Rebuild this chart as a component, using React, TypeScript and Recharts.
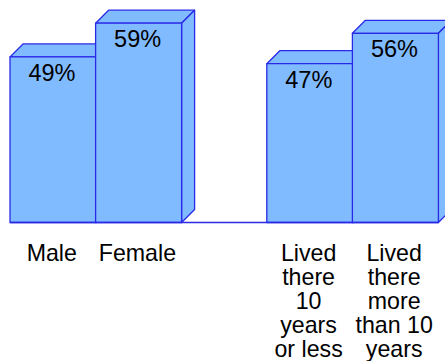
import { BarChart, Bar, XAxis, YAxis, LabelList } from 'recharts';

// One empty slot keeps the gap between the two groups
const categories = ['Male', 'Female', '', 'Lived there 10 years or less', 'Lived there more than 10 years'];
const tickLines = [
  ['Male'],
  ['Female'],
  [],
  ['Lived', 'there', '10', 'years', 'or less'],
  ['Lived', 'there', 'more', 'than 10', 'years'],
];
const values = [49, 59, null, 47, 56];

const data = categories.map((name, i) => ({ name, value: values[i], lines: tickLines[i] }));

const FILL = '#80BBFF';
const STROKE = '#2A2AE6';
const DEPTH = 13;
const FONT = '"Liberation Sans", Arial, sans-serif';

// Recharts 3 has no 3D bars, so extrude the front rectangle it hands us
const Box = (props: any) => {
  const { x, y, width, height } = props;
  if (!height) return null;
  const r = x + width;
  const b = y + height;
  return (
    <g stroke={STROKE} strokeWidth={1.3} fill={FILL} strokeLinejoin="round">
      <path d={`M${x},${y} L${x + DEPTH},${y - DEPTH} L${r + DEPTH},${y - DEPTH} L${r},${y} Z`} />
      <path d={`M${r},${y} L${r + DEPTH},${y - DEPTH} L${r + DEPTH},${b - DEPTH} L${r},${b} Z`} />
      <rect x={x} y={y} width={width} height={height} />
    </g>
  );
};

const WrappedTick = (props: any) => {
  const { x, payload } = props;
  const lines = tickLines[categories.indexOf(payload.value)] || [];
  return (
    <text textAnchor="middle" fontSize={23.2} fontFamily={FONT} fill="#000">
      {lines.map((line, i) => (
        <tspan key={i} x={x - 1} y={261 + i * 24}>{line}</tspan>
      ))}
    </text>
  );
};

const ValueLabel = (props: any) => {
  const { x, y, width, value } = props;
  if (value == null) return null;
  return (
    <text x={x + width / 2 - 1} y={y + 24} textAnchor="middle" fontSize={23.5} fontFamily={FONT} fill="#000">
      {value}%
    </text>
  );
};

export default function App() {
  return (
    <div style={{ position: 'absolute', left: 0, top: 0, width: 445, height: 361, background: '#fff' }}>
      <BarChart
        width={445}
        height={361}
        data={data}
        barCategoryGap={0}
        margin={{ top: 19.8, right: 7, bottom: 0, left: 10 }}
      >
        <YAxis hide domain={[0, 60]} />
        <XAxis
          dataKey="name"
          height={138.5}
          interval={0}
          tickLine={false}
          axisLine={{ stroke: STROKE, strokeWidth: 1.3 }}
          tick={<WrappedTick />}
        />
        <Bar dataKey="value" isAnimationActive={false} shape={<Box />}>
          <LabelList dataKey="value" content={<ValueLabel />} />
        </Bar>
      </BarChart>
    </div>
  );
}
